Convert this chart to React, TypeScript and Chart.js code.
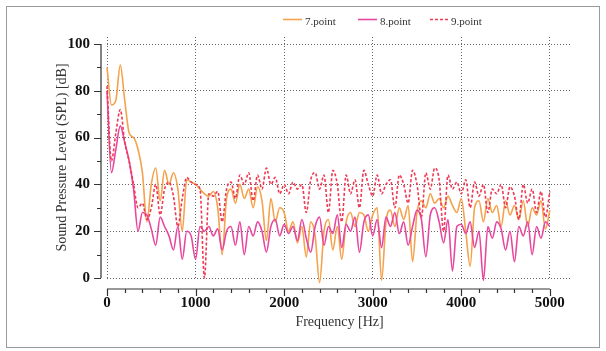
import React, { useEffect, useRef } from "react";
import { Chart, registerables } from "chart.js";

Chart.register(...registerables);

// Frequency grid [Hz]
const freqs = [
  0, 50, 100, 150, 200, 250, 300, 350, 400, 450,
  500, 550, 600, 650, 700, 750, 800, 850, 900, 950,
  1000, 1050, 1100, 1150, 1200, 1250, 1300, 1350, 1400, 1450,
  1500, 1550, 1600, 1650, 1700, 1750, 1800, 1850, 1900, 1950,
  2000, 2050, 2100, 2150, 2200, 2250, 2300, 2350, 2400, 2450,
  2500, 2550, 2600, 2650, 2700, 2750, 2800, 2850, 2900, 2950,
  3000, 3050, 3100, 3150, 3200, 3250, 3300, 3350, 3400, 3450,
  3500, 3550, 3600, 3650, 3700, 3750, 3800, 3850, 3900, 3950,
  4000, 4050, 4100, 4150, 4200, 4250, 4300, 4350, 4400, 4450,
  4500, 4550, 4600, 4650, 4700, 4750, 4800, 4850, 4900, 4950,
  5000,
];

const point7 = [
  90, 74, 76, 91, 76, 62, 60, 55, 45, 24,
  40, 47, 33, 46, 40, 45, 38, 20, 42, 41,
  40, 38, 36, 35, 37, 30, 10, 34, 38, 32,
  40, 34, 38, 30, 39, 33, 16, 34, 24, 30,
  28, 20, 24, 15, 22, 9, 24, 18, -2, 20,
  25, 12, 22, 8, 24, 28, 22, 28, 27, 20,
  27, 30, -1, 24, 29, 22, 30, 25, 31, 7,
  28, 33, 30, 36, 32, 34, 30, 35, 31, 28,
  34, 20, 5, 30, 33, 24, 34, 28, 31, 22,
  33, 27, 31, 25, 33, 22, 30, 27, 33, 21,
  29,
];

const point8 = [
  80, 45, 55, 65, 58, 50, 38, 20, 28, 27,
  21, 14, 26, 22, 18, 12, 22, 8, 20, 18,
  8, 22, 20, 22, 18, 21, 12, 20, 22, 14,
  24, 10, 22, 18, 24, 20, 11, 22, 25, 18,
  23, 19, 22, 16, 25, 17, 11, 22, 26, 14,
  22, 19, 27, 13, 23, 20, 26, 11, 24, 27,
  18, 25, 13, 26, 22, 28, 19, 24, 14, 22,
  29, 25, 9, 27, 30, 24, 15, 25, 3, 22,
  23, 19, 24, 13, 20, -1, 22, 17, 24, 21,
  12, 20, 7, 22, 18, 24, 10, 22, 17, 24,
  22,
];

const point9 = [
  82, 50, 62, 72, 58, 50, 40, 30, 32, 25,
  30, 40, 27, 38, 41, 35, 22, 34, 43, 41,
  40, 38, 0, 36, 35, 37, 24, 38, 41, 34,
  44, 40, 45, 33, 44, 38, 47, 40, 43, 36,
  40, 36, 41, 38, 40, 28, 42, 45, 38, 44,
  28, 46, 40, 24, 44, 36, 42, 30, 46, 40,
  35, 44, 36, 40, 42, 30, 44, 40, 32, 46,
  40, 26, 45, 38, 47, 42, 20, 44, 38, 41,
  36, 42, 30, 41, 35, 40, 28, 38, 36, 40,
  30, 39, 35, 25, 40, 32, 38, 28, 37, 26,
  37,
];

const seriesLabels = ["7.point", "8.point", "9.point"];
const seriesColors = ["#F4A24C", "#E8479F", "#EE3B55"];
const xTicks = [0, 1000, 2000, 3000, 4000, 5000];
const yTicks = [0, 20, 40, 60, 80, 100];

const SERIF = "'Liberation Serif', 'Times New Roman', serif";

const decorPlugin = {
  id: "decor",
  afterDraw(chart: any) {
    const ctx = chart.ctx as CanvasRenderingContext2D;
    const xs = chart.scales.x;
    const ys = chart.scales.y;
    ctx.save();
    // outer frame
    ctx.strokeStyle = "#9a9a9a";
    ctx.lineWidth = 1;
    ctx.strokeRect(6.5, 6.5, 593, 341);

    // y axis line (offset)
    ctx.strokeStyle = "#333";
    ctx.lineWidth = 1.2;
    const ax = 101;
    const y0 = ys.getPixelForValue(0);
    const y100 = ys.getPixelForValue(100);
    ctx.beginPath();
    ctx.moveTo(ax, y100);
    ctx.lineTo(ax, y0);
    for (let v = 0; v <= 100; v += 10) {
      const py = Math.round(ys.getPixelForValue(v)) + 0.5;
      const len = v % 20 === 0 ? 7 : 4;
      ctx.moveTo(ax, py);
      ctx.lineTo(ax - len, py);
    }
    ctx.stroke();

    // x axis line (offset)
    const ay = 289;
    const x0 = xs.getPixelForValue(0);
    const x5 = xs.getPixelForValue(5000);
    ctx.beginPath();
    ctx.moveTo(x0, ay);
    ctx.lineTo(x5, ay);
    for (let f = 0; f <= 5000; f += 200) {
      const px = Math.round(xs.getPixelForValue(f)) + 0.5;
      const len = f % 1000 === 0 ? 7 : 4;
      ctx.moveTo(px, ay);
      ctx.lineTo(px, ay + len);
    }
    ctx.stroke();

    // legend
    const items = [
      { x: 283, tx: 305 },
      { x: 358, tx: 380 },
      { x: 430, tx: 451 },
    ];
    ctx.font = `11px ${SERIF}`;
    ctx.textBaseline = "middle";
    ctx.fillStyle = "#333";
    items.forEach((it, i) => {
      ctx.strokeStyle = seriesColors[i];
      ctx.lineWidth = 1.6;
      ctx.setLineDash(i === 2 ? [3, 2] : []);
      ctx.beginPath();
      ctx.moveTo(it.x, 19.5);
      ctx.lineTo(it.x + 19, 19.5);
      ctx.stroke();
      ctx.setLineDash([]);
      ctx.fillText(seriesLabels[i], it.tx, 22);
    });
    ctx.restore();
  },
};

export default function App() {
  const ref = useRef<HTMLCanvasElement | null>(null);

  useEffect(() => {
    if (!ref.current) return;
    const mk = (ys: number[]) => ys.map((y, i) => ({ x: freqs[i], y }));
    const chart = new Chart(ref.current, {
      type: "line",
      data: {
        datasets: [
          {
            label: seriesLabels[0],
            data: mk(point7),
            borderColor: seriesColors[0],
            borderWidth: 1.6,
            pointRadius: 0,
            cubicInterpolationMode: "monotone",
            order: 2,
          },
          {
            label: seriesLabels[1],
            data: mk(point8),
            borderColor: seriesColors[1],
            borderWidth: 1.6,
            pointRadius: 0,
            cubicInterpolationMode: "monotone",
            order: 1,
          },
          {
            label: seriesLabels[2],
            data: mk(point9),
            borderColor: seriesColors[2],
            borderWidth: 1.6,
            borderDash: [3, 2],
            pointRadius: 0,
            cubicInterpolationMode: "monotone",
            order: 0,
          },
        ],
      },
      options: {
        responsive: false,
        animation: false,
        clip: false as any,
        layout: { padding: { top: 37, right: 34, left: 0, bottom: 0 } },
        plugins: {
          legend: { display: false },
          tooltip: { enabled: false },
        },
        scales: {
          x: {
            type: "linear",
            min: 0,
            max: 5250,
            afterFit: (s: any) => {
              s.height = 73;
            },
            afterBuildTicks: (s: any) => {
              s.ticks = xTicks.map((v) => ({ value: v }));
            },
            ticks: {
              includeBounds: false,
              padding: 16,
              color: "#111",
              maxRotation: 0,
              font: { family: SERIF, size: 15, weight: "bold" },
              callback: (v: any) => String(v),
            },
            grid: {
              drawTicks: false,
              color: "#666",
              lineWidth: 1,
            },
            border: { display: false, dash: [1, 2] },
            title: {
              display: true,
              text: "Frequency [Hz]",
              color: "#333",
              font: { family: SERIF, size: 14 },
              padding: { top: 0, bottom: 20 },
            },
          },
          y: {
            type: "linear",
            min: 0,
            max: 103,
            afterFit: (s: any) => {
              s.width = 107;
            },
            afterBuildTicks: (s: any) => {
              s.ticks = yTicks.map((v) => ({ value: v }));
            },
            ticks: {
              includeBounds: false,
              padding: 17,
              color: "#111",
              font: { family: SERIF, size: 15, weight: "bold" },
              callback: (v: any) => String(v),
            },
            grid: {
              drawTicks: false,
              color: "#666",
              lineWidth: 1,
            },
            border: { display: false, dash: [1, 2] },
            title: {
              display: true,
              text: "Sound Pressure Level (SPL) [dB]",
              color: "#333",
              font: { family: SERIF, size: 14 },
              padding: { top: 54, bottom: 0 },
            },
          },
        },
      } as any,
      plugins: [decorPlugin],
    });
    return () => chart.destroy();
  }, []);

  return (
    <div style={{ position: "fixed", left: 0, top: 0, width: 606, height: 351, background: "#fff" }}>
      <canvas ref={ref} width={606} height={351} style={{ width: 606, height: 351 }} />
    </div>
  );
}
